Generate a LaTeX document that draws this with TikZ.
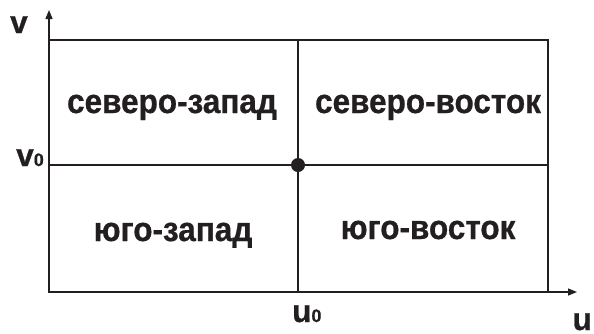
\documentclass[tikz,border=0pt]{standalone}
\usepackage{fontspec}
\setmainfont{Liberation Sans}[BoldFeatures={FakeBold=0.8}]
\usetikzlibrary{arrows.meta}
\definecolor{ink}{HTML}{231F20}
\begin{document}
\begin{tikzpicture}[x=1pt,y=-1pt,
  axis/.style={draw=ink, line width=1.4pt, -{Triangle[length=9pt,width=7pt]}},
  grid/.style={draw=ink, line width=1.2pt},
  region/.style={font=\fontsize{31.5}{32}\selectfont\bfseries, text=ink, anchor=base, inner sep=0pt, yscale=1.08},
  axlab/.style={font=\fontsize{31.5}{32}\selectfont\bfseries, text=ink, inner sep=0pt}]
\useasboundingbox (0,0) rectangle (594,333);
\coordinate (O) at (49,292);
\coordinate (Ytip) at (49,10);
\coordinate (Xtip) at (577,292);
\coordinate (TR) at (548,40);
\coordinate (Ttop) at (298,40);
\coordinate (Tbot) at (298,292);
\coordinate (Lmid) at (49,165);
\coordinate (Rmid) at (548,165);
\draw[grid] (O) rectangle (TR);
\draw[grid] (Ttop) -- (Tbot);
\draw[grid] (Lmid) -- (Rmid);
\draw[axis] (O) -- (Ytip);
\draw[axis] (O) -- (Xtip);
\node[circle, fill=ink, minimum size=14pt, inner sep=0pt] (P) at (298,165) {};
\node[region] (nw) at (172,113) {северо-запад};
\node[region] (ne) at (428,113) {северо-восток};
\node[region] (sw) at (173,241) {юго-запад};
\node[region] (se) at (428,239) {юго-восток};
\node[axlab, anchor=base west] (v) at (10,33) {v};
\node[axlab, anchor=base east] (v0) at (44,166) {v{\fontsize{18}{18}\selectfont 0}};
\node[axlab, anchor=base west] (u0) at (292,322) {u{\fontsize{18}{18}\selectfont 0}};
\node[axlab, anchor=base east] (u) at (592,330) {u};
\end{tikzpicture}
\end{document}
